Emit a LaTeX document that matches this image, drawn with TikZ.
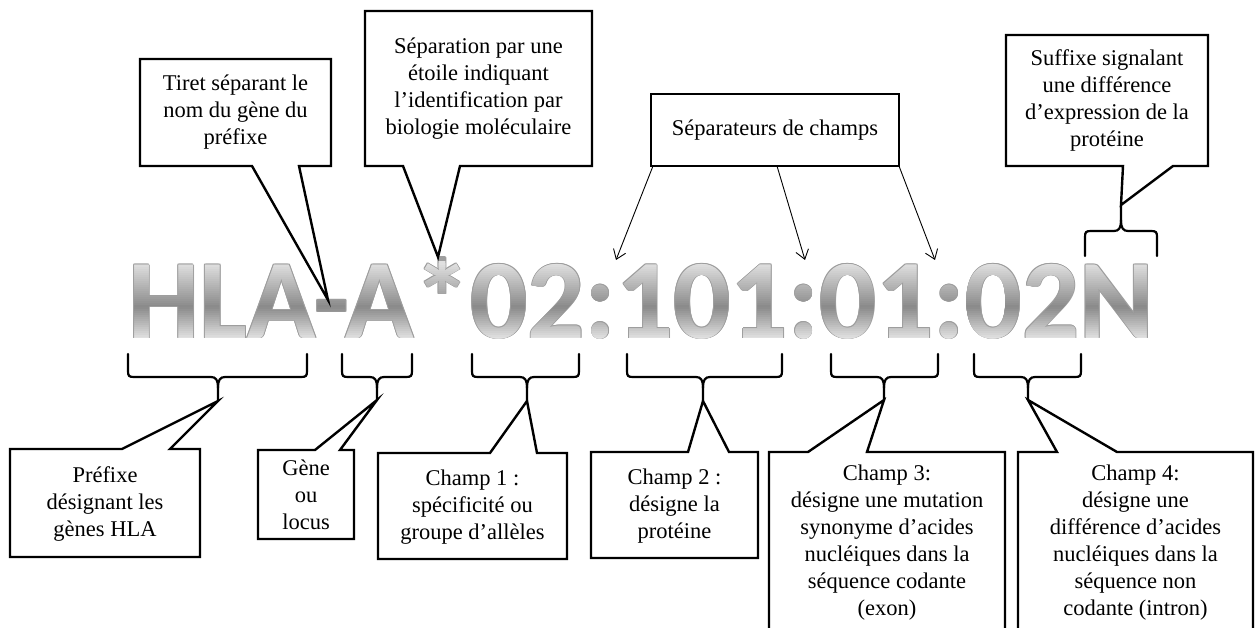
\documentclass[tikz,border=0pt]{standalone}
\usepackage{fontspec}
\setmainfont{Liberation Serif}
\newfontfamily\hlafont{Carlito}
\usetikzlibrary{arrows.meta}
\tikzset{
  callout/.style={draw=black, line width=2.4pt, fill=white, line join=miter},
  brace/.style={draw=black, line width=2.2pt, line cap=round},
  lbl/.style={inner sep=0pt, align=center, font=\fontsize{22.5}{27}\selectfont},
  sep arrow/.style={draw=black, line width=0.9pt, -{Straight Barb[length=9pt,width=13pt]}},
  big/.style={inner sep=0pt, anchor=base, font=\hlafont\bfseries\fontsize{113}{113}\selectfont},
}
\newcommand\bbrace[4]{% left x, right x, centre x, tip name (bottom braces)
  \draw[brace] (#1,354) -- (#1,371) .. controls (#1,376) and (#1+1,377) .. (#1+6,377) -- (#3-7,377) .. controls (#3-2,377) and (#3,380) .. (#3,388) -- (#4);
  \draw[brace] (#2,354) -- (#2,371) .. controls (#2,376) and (#2-1,377) .. (#2-6,377) -- (#3+7,377) .. controls (#3+2,377) and (#3,380) .. (#3,388);
}
\begin{document}
\begin{tikzpicture}[x=1pt,y=-1pt]
\useasboundingbox (0,0) rectangle (1256,628);
\clip (0,0) rectangle (1256,628);

% ---- big gradient text: grey outline halo, then gradient strips ----
\foreach \dx/\dy in {-0.9/0,0.9/0,0/-0.9,0/0.9,-0.65/-0.65,0.65/-0.65,-0.65/0.65,0.65/0.65}{
  \node[big,text=black!38] at (641+\dx,338+\dy) {HLA-A*02:101:01:02N};
}
\foreach \y in {262,264,...,342}{
  \pgfmathsetmacro\t{max(0,min(1,(\y+1-265)/74))}
  \pgfmathsetmacro\p{(\t<0.58)*(12+34*\t/0.58)+(\t>=0.58)*(46-34*(\t-0.58)/0.42)}
  \begin{scope}
    \clip (100,\y) rectangle (1180,\y+2.6);
    \node[big,text=black!\p] (hla) at (641,338) {HLA-A*02:101:01:02N};
  \end{scope}
}

% ---- tips ----
\coordinate (tipT) at (328,300);
\coordinate (tipE) at (438,257);
\coordinate (tipS) at (1121,205);
\coordinate (tipP) at (218,401);
\coordinate (tipG) at (377,400);
\coordinate (tip1) at (527,401);
\coordinate (tip2) at (703,401);
\coordinate (tip3) at (884,400);
\coordinate (tip4) at (1028,400);

% ---- top callouts ----
\draw[callout] (140,59) -- (331,59) -- (331,166) -- (299,166) -- (tipT) -- (252,166) -- (140,166) -- cycle;
\node[lbl] (tiret) at (235.5,112.5) {Tiret séparant le\\nom du gène du\\préfixe};

\draw[callout] (365,11) -- (592,11) -- (592,166) -- (460,166) -- (tipE) -- (403,166) -- (365,166) -- cycle;
\node[lbl] (etoile) at (478.5,88.5) {Séparation par une\\étoile indiquant\\l’identification par\\biologie moléculaire};

\draw[callout] (651,94) rectangle (899,166);
\node[lbl] (seps) at (775,130) {Séparateurs de champs};
\coordinate (s1) at (653,166);
\coordinate (s2) at (777,166);
\coordinate (s3) at (899,166);
\coordinate (a1) at (616,260);
\coordinate (a2) at (805,260);
\coordinate (a3) at (935,260);
\draw[sep arrow] (s1) -- (a1);
\draw[sep arrow] (s2) -- (a2);
\draw[sep arrow] (s3) -- (a3);

\draw[callout] (1006,35) -- (1208,35) -- (1208,166) -- (1173,166) -- (tipS) -- (1123,166) -- (1006,166) -- cycle;
\node[lbl] (suffixe) at (1107,100.5) {Suffixe signalant\\une différence\\d’expression de la\\protéine};

% brace above N
\draw[brace] (1085,256) -- (1085,237) .. controls (1085,232) and (1086,231) .. (1091,231) -- (1114,231) .. controls (1119,231) and (1121,228) .. (1121,220) -- (tipS);
\draw[brace] (1157,256) -- (1157,237) .. controls (1157,232) and (1156,231) .. (1151,231) -- (1128,231) .. controls (1123,231) and (1121,228) .. (1121,220);

% ---- bottom braces ----
\bbrace{128}{307}{218}{tipP}
\bbrace{342}{412}{377}{tipG}
\bbrace{472}{579}{527}{tip1}
\bbrace{627}{782}{703}{tip2}
\bbrace{831}{938}{884}{tip3}
\bbrace{974}{1081}{1028}{tip4}

% ---- bottom callouts ----
\draw[callout] (10,449) -- (122,449) -- (tipP) -- (170,449) -- (200,449) -- (200,557) -- (10,557) -- cycle;
\node[lbl] (prefixe) at (105,504) {Préfixe\\désignant les\\gènes HLA};

\draw[callout] (258,450) -- (315,450) -- (tipG) -- (340,450) -- (354,450) -- (354,539) -- (258,539) -- cycle;
\node[lbl] (gene) at (306,495) {Gène\\ou\\locus};

\draw[callout] (378,453) -- (490,453) -- (tip1) -- (537,453) -- (567,453) -- (567,559) -- (378,559) -- cycle;
\node[lbl] (champA) at (472.5,507) {Champ 1 :\\spécificité ou\\groupe d’allèles};

\draw[callout] (591,452) -- (688,452) -- (tip2) -- (729,452) -- (758,452) -- (758,558) -- (591,558) -- cycle;
\node[lbl] (champB) at (674.5,506) {Champ 2 :\\désigne la\\protéine};

\draw[callout] (769,452) -- (808,452) -- (tip3) -- (867,452) -- (1005,452) -- (1005,650) -- (769,650) -- cycle;
\node[lbl] (champC) at (887,543) {Champ 3:\\désigne une mutation\\synonyme d’acides\\nucléiques dans la\\séquence codante\\(exon)};

\draw[callout] (1018,452) -- (1057,452) -- (tip4) -- (1117,452) -- (1253,452) -- (1253,650) -- (1018,650) -- cycle;
\node[lbl] (champD) at (1135.5,543) {Champ 4:\\désigne une\\différence d’acides\\nucléiques dans la\\séquence non\\codante (intron)};
\end{tikzpicture}
\end{document}
